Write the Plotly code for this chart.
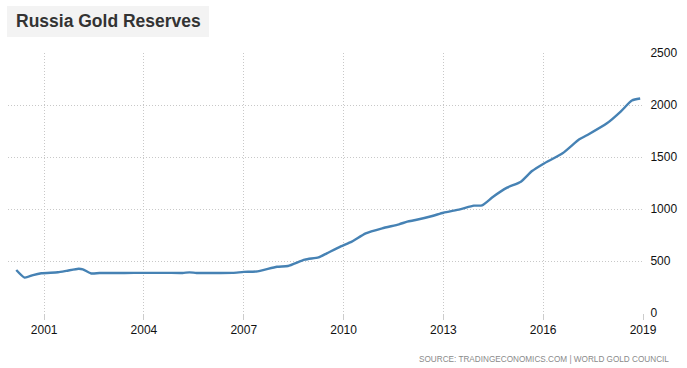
import plotly.graph_objects as go

dates = [
    "2000-03-01", "2000-06-01", "2000-09-01", "2000-12-01", "2001-06-01", "2001-09-01",
    "2002-01-15", "2002-03-01", "2002-06-01", "2002-09-01", "2003-06-01", "2004-01-01",
    "2004-09-01", "2005-03-01", "2005-05-15", "2005-08-01", "2006-03-01", "2006-09-01",
    "2007-01-01", "2007-06-01", "2008-01-01", "2008-05-01", "2008-11-01", "2009-04-01",
    "2009-07-01", "2009-12-01", "2010-04-01", "2010-09-01", "2011-03-01", "2011-09-01",
    "2011-12-01", "2012-03-01", "2012-09-01", "2013-01-01", "2013-07-01", "2013-12-01",
    "2014-03-01", "2014-07-01", "2014-12-01", "2015-05-01", "2015-09-01", "2016-01-01",
    "2016-08-01", "2017-02-01", "2017-05-01", "2017-12-01", "2018-05-01", "2018-09-01",
    "2018-12-01",
]
reserves = [
    413, 340, 365, 382, 392, 405,
    426, 420, 380, 384, 385, 386,
    386, 385, 391, 385, 385, 386,
    395, 400, 445, 452, 513, 535,
    574, 640, 686, 766, 814, 853,
    878, 894, 933, 964, 997, 1032,
    1035, 1118, 1205, 1263, 1365, 1433,
    1535, 1670, 1712, 1824, 1937, 2043,
    2062,
]
y_ticks = [0, 500, 1000, 1500, 2000, 2500]
x_ticks = ["2001-01-01", "2004-01-01", "2007-01-01", "2010-01-01", "2013-01-01", "2016-01-01", "2019-01-01"]
x_labels = ["2001", "2004", "2007", "2010", "2013", "2016", "2019"]

L, R, T, B = 8, 44, 53, 55
PW, PH = 687 - L - R, 368 - T - B


def px(x):
    return (x - L) / PW


def py(y):
    return (368 - B - y) / PH


fig = go.Figure()
fig.add_trace(go.Scatter(
    x=dates, y=reserves, mode="lines",
    line=dict(color="#4682b4", width=2.4, shape="spline", smoothing=0.6),
    hoverinfo="skip",
))

grid = dict(showgrid=True, gridcolor="#c8c8c8", griddash="1px,2px", gridwidth=1)
fig.update_layout(
    width=687, height=368,
    margin=dict(l=L, r=R, t=T, b=B, autoexpand=False),
    paper_bgcolor="white", plot_bgcolor="white",
    showlegend=False,
    font=dict(family="Liberation Sans, Arial, sans-serif", size=12, color="#111"),
    xaxis=dict(
        type="date", range=["1999-12-01", "2019-01-01"],
        tickvals=x_ticks, ticktext=x_labels,
        ticks="outside", ticklen=6, tickcolor="#cccccc",
        showline=False, zeroline=False, **grid,
    ),
    yaxis=dict(
        side="right", range=[0, 2500], tickvals=y_ticks,
        ticks="outside", ticklen=4, tickcolor="white",
        showline=False, zeroline=False, **grid,
    ),
)
fig.add_shape(type="rect", xref="paper", yref="paper",
              x0=px(7), x1=px(209), y0=py(37), y1=py(6),
              fillcolor="#f3f3f3", line=dict(width=0), layer="below")
fig.add_annotation(text="<b>Russia Gold Reserves</b>", xref="paper", yref="paper",
                   x=px(14), y=py(21), xanchor="left", yanchor="middle",
                   showarrow=False, font=dict(size=17.5, color="#333333"))
fig.add_annotation(text="SOURCE: TRADINGECONOMICS.COM | WORLD GOLD COUNCIL",
                   xref="paper", yref="paper",
                   x=px(671), y=py(359), xanchor="right", yanchor="middle",
                   showarrow=False, font=dict(size=8.2, color="#8a8a8a"))

fig.write_html("out.html", config={"displayModeBar": False},
               post_script="document.body.style.margin='0';")
